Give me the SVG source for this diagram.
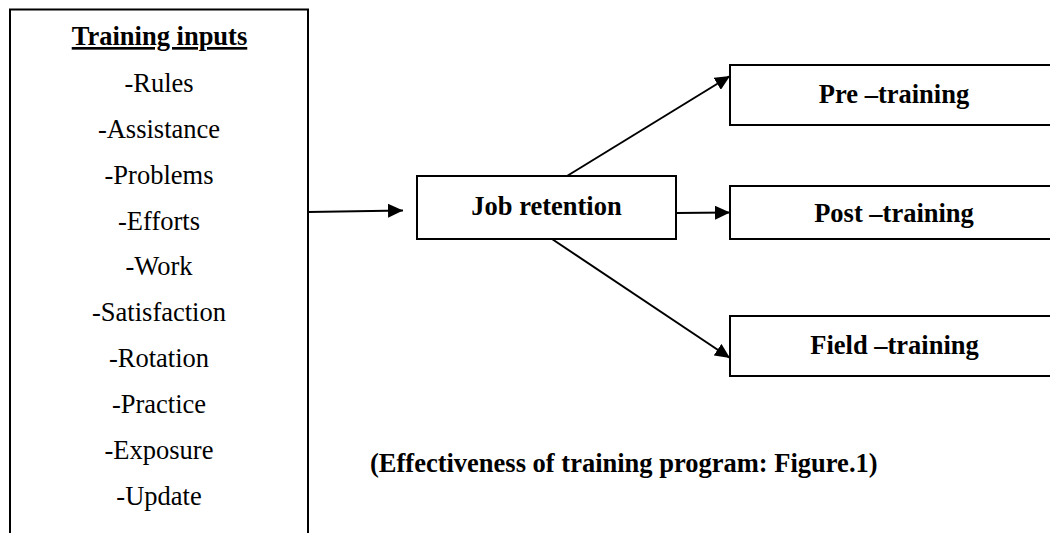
<svg xmlns="http://www.w3.org/2000/svg" width="1050" height="533" viewBox="0 0 1050 533">
<style>
.box{fill:#fff;stroke:#000;stroke-width:2}
.t{font-family:"Liberation Serif","Times New Roman",serif;font-size:26.5px;fill:#000;text-anchor:middle}
.b{font-weight:bold}
.conn{stroke:#000;stroke-width:2;fill:none;marker-end:url(#ah)}
</style>
<defs>
<marker id="ah" markerUnits="userSpaceOnUse" markerWidth="16" markerHeight="14" refX="15" refY="7" orient="auto">
<path d="M0,0 L15,7 L0,14 z" fill="#000"/>
</marker>
</defs>
<rect width="1050" height="533" fill="#fff"/>
<g id="training-inputs">
<rect class="box" x="10" y="9.5" width="298" height="600"/>
<text class="t b" x="159.5" y="45" text-decoration="underline">Training inputs</text>
<text class="t" x="159" y="92">-Rules</text>
<text class="t" x="159" y="138">-Assistance</text>
<text class="t" x="159" y="184">-Problems</text>
<text class="t" x="159" y="230">-Efforts</text>
<text class="t" x="159" y="275">-Work</text>
<text class="t" x="159" y="321">-Satisfaction</text>
<text class="t" x="159" y="367">-Rotation</text>
<text class="t" x="159" y="413">-Practice</text>
<text class="t" x="159" y="459">-Exposure</text>
<text class="t" x="159" y="505">-Update</text>
</g>
<g id="job-retention">
<rect class="box" x="417" y="176" width="259" height="63"/>
<text class="t b" x="546.5" y="215">Job retention</text>
</g>
<g id="pre-training">
<rect class="box" x="730" y="65" width="330" height="60"/>
<text class="t b" x="894" y="103">Pre –training</text>
</g>
<g id="post-training">
<rect class="box" x="730" y="186" width="330" height="53"/>
<text class="t b" x="894" y="222">Post –training</text>
</g>
<g id="field-training">
<rect class="box" x="730" y="316" width="330" height="60"/>
<text class="t b" x="894.5" y="354">Field –training</text>
</g>
<g id="caption">
<text class="t b" x="370" y="472" style="text-anchor:start">(Effectiveness of training program: Figure.1)</text>
</g>
<g id="connectors">
<line class="conn" x1="308" y1="212" x2="403" y2="210.5"/>
<line class="conn" x1="567" y1="176" x2="730" y2="76"/>
<line class="conn" x1="676" y1="213" x2="730" y2="212.5"/>
<line class="conn" x1="552" y1="239" x2="730" y2="358"/>
</g>
</svg>
